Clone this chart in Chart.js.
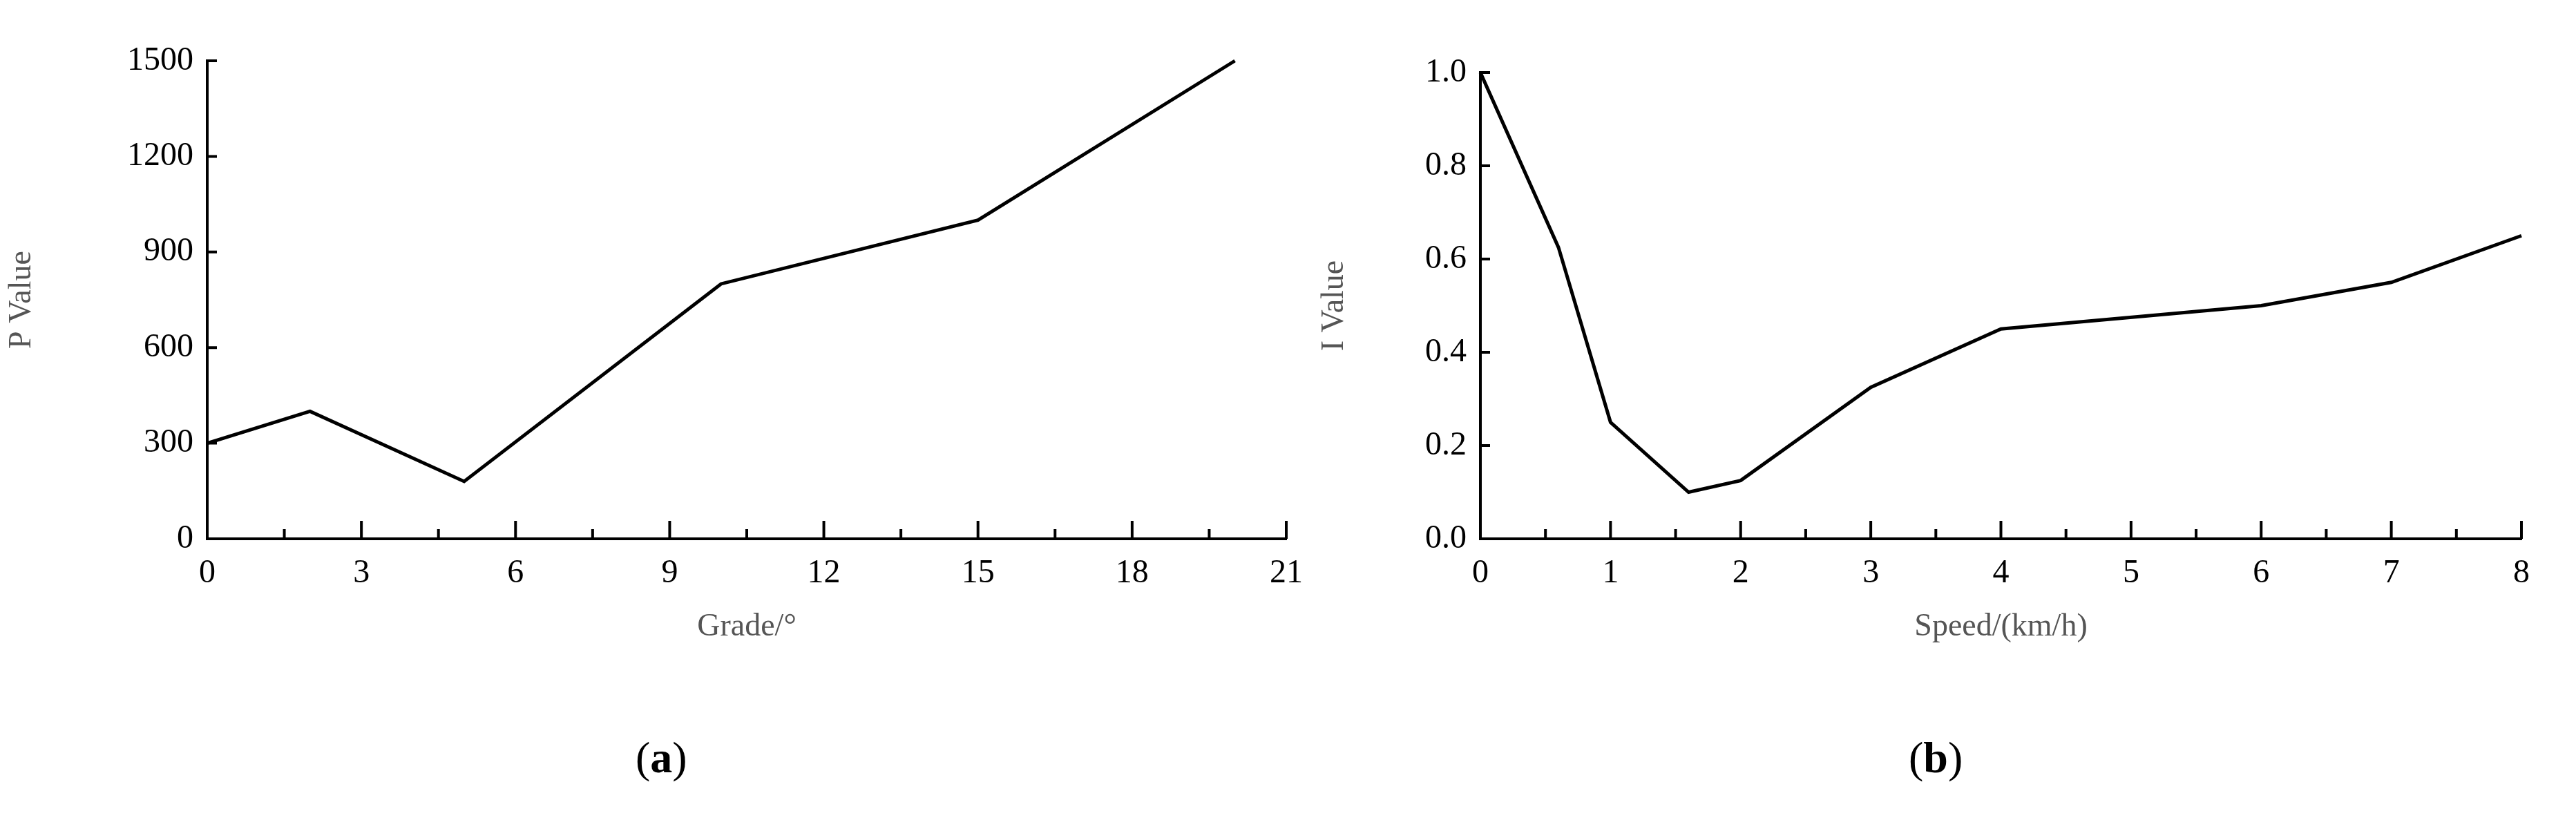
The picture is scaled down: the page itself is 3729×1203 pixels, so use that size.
<!DOCTYPE html>
<html>
<head>
<meta charset="utf-8">
<script src="https://cdn.jsdelivr.net/npm/chart.js@4.4.0/dist/chart.umd.min.js"></script>
<style>
body { margin: 0; background: #fff; width: 3729px; height: 1203px; position: relative; overflow: hidden; }
.box { position: absolute; top: 0; height: 960px; }
.cap { position: absolute; top: 1060px; font: 64px "Liberation Serif", serif; }
</style>
</head>
<body>
<div class="box" style="left:0;width:1900px"><canvas id="ca"></canvas></div>
<div class="box" style="left:1900px;width:1829px"><canvas id="cb"></canvas></div>
<div class="cap" style="left:920px">(<b>a</b>)</div>
<div class="cap" style="left:2763px">(<b>b</b>)</div>
<script>
// panel a
var gradeX = [0, 2, 5, 10, 15, 20];
var pValue = [300, 400, 180, 800, 1000, 1500];
// panel b
var speedX = [0, 0.6, 1, 1.6, 2, 3, 4, 6, 7, 8];
var iValue = [1.0, 0.625, 0.25, 0.1, 0.125, 0.325, 0.45, 0.5, 0.55, 0.65];

var FONT = '"Liberation Serif", serif';

// draws inward major/minor tick marks
var innerTicks = {
    id: 'innerTicks',
    afterDraw: function(chart, args, opts) {
        var ctx = chart.ctx, a = chart.chartArea;
        var x = chart.scales.x, y = chart.scales.y;
        ctx.save();
        ctx.strokeStyle = '#000';
        ctx.lineWidth = 4;
        ctx.beginPath();
        for (var v = x.min; v <= x.max + 1e-9; v += opts.xMinor) {
            var px = x.getPixelForValue(v);
            var major = Math.abs(v / opts.xMajor - Math.round(v / opts.xMajor)) < 1e-6;
            ctx.moveTo(px, a.bottom);
            ctx.lineTo(px, a.bottom - (major ? 26 : 14));
        }
        for (var w = y.min; w <= y.max + 1e-9; w += opts.yMajor) {
            var py = y.getPixelForValue(w);
            ctx.moveTo(a.left, py);
            ctx.lineTo(a.left + 14, py);
        }
        ctx.stroke();
        ctx.restore();
    }
};

function makeChart(id, xs, ys, o) {
    var pts = [];
    for (var i = 0; i < xs.length; i++) pts.push({x: xs[i], y: ys[i]});
    return new Chart(document.getElementById(id), {
        type: 'line',
        data: { datasets: [{ data: pts, borderColor: '#000', borderWidth: 5, pointRadius: 0, tension: 0, clip: false }] },
        plugins: [innerTicks],
        options: {
            responsive: true, maintainAspectRatio: false, animation: false,
            layout: { padding: { top: o.top, right: o.right, bottom: 20, left: 0 } },
            plugins: { legend: { display: false }, tooltip: { enabled: false }, innerTicks: o.ticks },
            scales: {
                x: {
                    type: 'linear', min: o.xMin, max: o.xMax,
                    ticks: { stepSize: o.ticks.xMajor, color: '#000', font: { family: FONT, size: 48 }, padding: 14, maxRotation: 0 },
                    grid: { display: false },
                    border: { color: '#000', width: 4 },
                    title: { display: true, text: o.xTitle, color: '#555', font: { family: FONT, size: 46 }, padding: { top: 18 } },
                    afterFit: function(s) { s.height = 160; }
                },
                y: {
                    min: o.yMin, max: o.yMax,
                    ticks: { stepSize: o.ticks.yMajor, color: '#000', font: { family: FONT, size: 48 }, padding: 12,
                             callback: o.yFmt },
                    grid: { display: false },
                    border: { color: '#000', width: 4 },
                    title: { display: true, text: o.yTitle, color: '#555', font: { family: FONT, size: 46 }, padding: { bottom: 8 } },
                    afterFit: function(s) { s.width = o.left; }
                }
            }
        }
    });
}

makeChart('ca', gradeX, pValue, {
    top: 88, right: 31, left: 300,
    xMin: 0, xMax: 21, yMin: 0, yMax: 1500,
    xTitle: 'Grade/°', yTitle: 'P Value',
    yFmt: function(v) { return v; },
    ticks: { xMajor: 3, xMinor: 1.5, yMajor: 300 }
});
makeChart('cb', speedX, iValue, {
    top: 105, right: 79, left: 243,
    xMin: 0, xMax: 8, yMin: 0, yMax: 1,
    xTitle: 'Speed/(km/h)', yTitle: 'I Value',
    yFmt: function(v) { return v.toFixed(1); },
    ticks: { xMajor: 1, xMinor: 0.5, yMajor: 0.2 }
});
</script>
</body>
</html>
